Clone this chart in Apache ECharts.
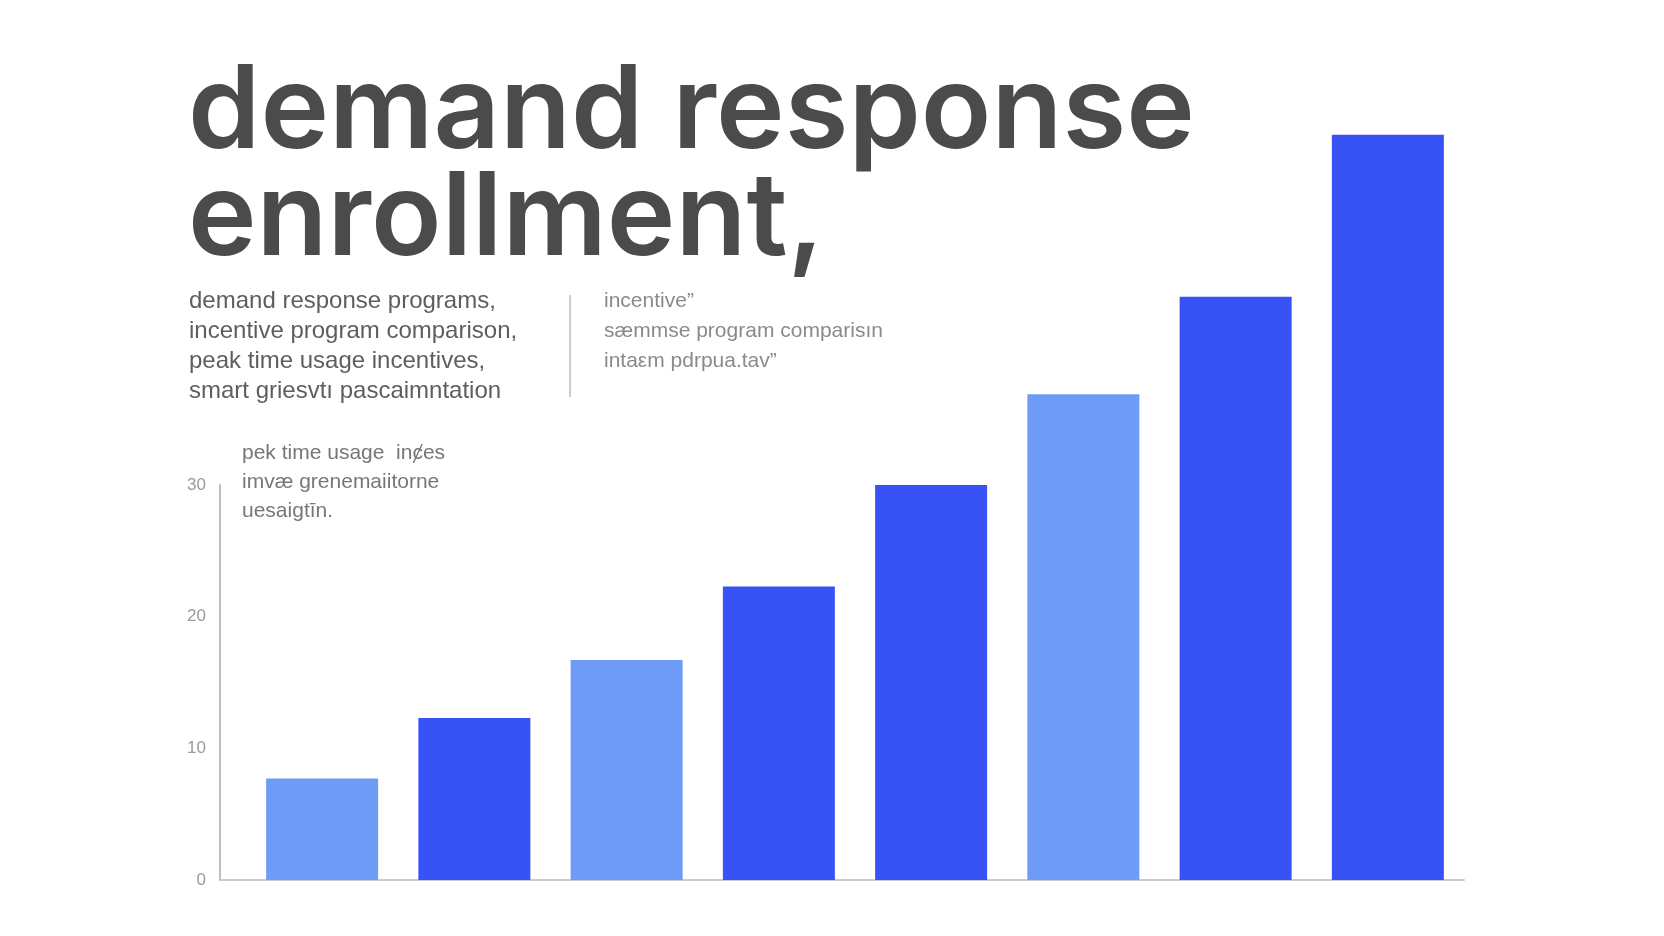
<!DOCTYPE html>
<html>
<head>
<meta charset="utf-8">
<title>demand response enrollment</title>
<script src="https://cdn.jsdelivr.net/npm/echarts@6/dist/echarts.min.js"></script>
<style>
  html, body { margin: 0; padding: 0; background: #ffffff; }
  #main { width: 1664px; height: 936px; }
</style>
</head>
<body>
<div id="main"></div>
<script>
// programs along the x axis (not labelled in the picture)
var categories = ['P1', 'P2', 'P3', 'P4', 'P5', 'P6', 'P7', 'P8'];
// enrollment
var enrollment = [7.7, 12.3, 16.7, 22.3, 30.0, 36.9, 44.3, 56.6];
// which bars are the pale shade
var shade = ['light', 'dark', 'light', 'dark', 'dark', 'light', 'dark', 'dark'];
var yTicks = [0, 10, 20, 30];

var titleLines = ['demand response', 'enrollment,'];
var leftNotes = ['demand response programs,', 'incentive program comparison,', 'peak time usage incentives,', 'smart griesvtı pascaimntation'];
var rightNotes = ['incentive\u201d', 'sæmmse program comparisın', 'intaεm pdrpua.tav\u201d'];
var chartNote = ['pek time usage  inȼes', 'imvæ grenemaiitorne', 'uesaigtīn.'];

var colors = { light: '#6e9bf7', dark: '#3753f5' };

function chart() {
    var dom = document.getElementById('main');
    var myChart = echarts.init(dom);
    var font = "'Liberation Sans', Arial, sans-serif";

    var barData = enrollment.map(function (v, i) {
        return { value: v, itemStyle: { color: colors[shade[i]] } };
    });

    var option = {
        backgroundColor: '#ffffff',
        animation: false,
        title: [{
            text: titleLines.join('\n'),
            left: 183,
            top: 55,
            textStyle: {
                fontFamily: "Inter, 'Liberation Sans', sans-serif",
                fontSize: 116,
                fontWeight: 600,
                lineHeight: 107,
                color: '#4b4b4b'
            }
        }, {
            text: leftNotes.join('\n'),
            left: 184,
            top: 281,
            textStyle: {
                fontFamily: font,
                fontSize: 24,
                fontWeight: 'normal',
                lineHeight: 30,
                color: '#5e5e5e'
            }
        }, {
            text: rightNotes.join('\n'),
            left: 599,
            top: 281,
            textStyle: {
                fontFamily: font,
                fontSize: 21,
                fontWeight: 'normal',
                lineHeight: 30,
                color: '#8a8a8a'
            }
        }, {
            text: chartNote.join('\n'),
            left: 237,
            top: 434,
            textStyle: {
                fontFamily: font,
                fontSize: 21,
                fontWeight: 'normal',
                lineHeight: 29,
                color: '#777777'
            }
        }],
        graphic: [{
            type: 'line',
            shape: { x1: 570, y1: 295, x2: 570, y2: 397 },
            style: { stroke: '#9a9a9a', lineWidth: 1 }
        }, {
            type: 'line',
            shape: { x1: 220, y1: 880, x2: 247, y2: 880 },
            style: { stroke: '#cccccc', lineWidth: 2 }
        }],
        grid: {
            left: 246,
            right: 200,
            top: 485,
            bottom: 56,
            containLabel: false
        },
        xAxis: {
            type: 'category',
            data: categories,
            axisLine: { lineStyle: { color: '#cccccc', width: 2 } },
            axisTick: { show: false },
            axisLabel: { show: false }
        },
        yAxis: {
            type: 'value',
            min: yTicks[0],
            max: yTicks[yTicks.length - 1],
            interval: 10,
            offset: 26,
            axisLine: { show: true, lineStyle: { color: '#bdbdbd', width: 2 } },
            axisTick: { show: false },
            splitLine: { show: false },
            axisLabel: {
                margin: 14,
                fontFamily: font,
                fontSize: 17,
                color: '#9a9a9a'
            }
        },
        series: [{
            name: 'enrollment',
            type: 'bar',
            data: barData,
            barWidth: 112,
            clip: false
        }]
    };

    myChart.setOption(option, true);
}

chart();
</script>
</body>
</html>
